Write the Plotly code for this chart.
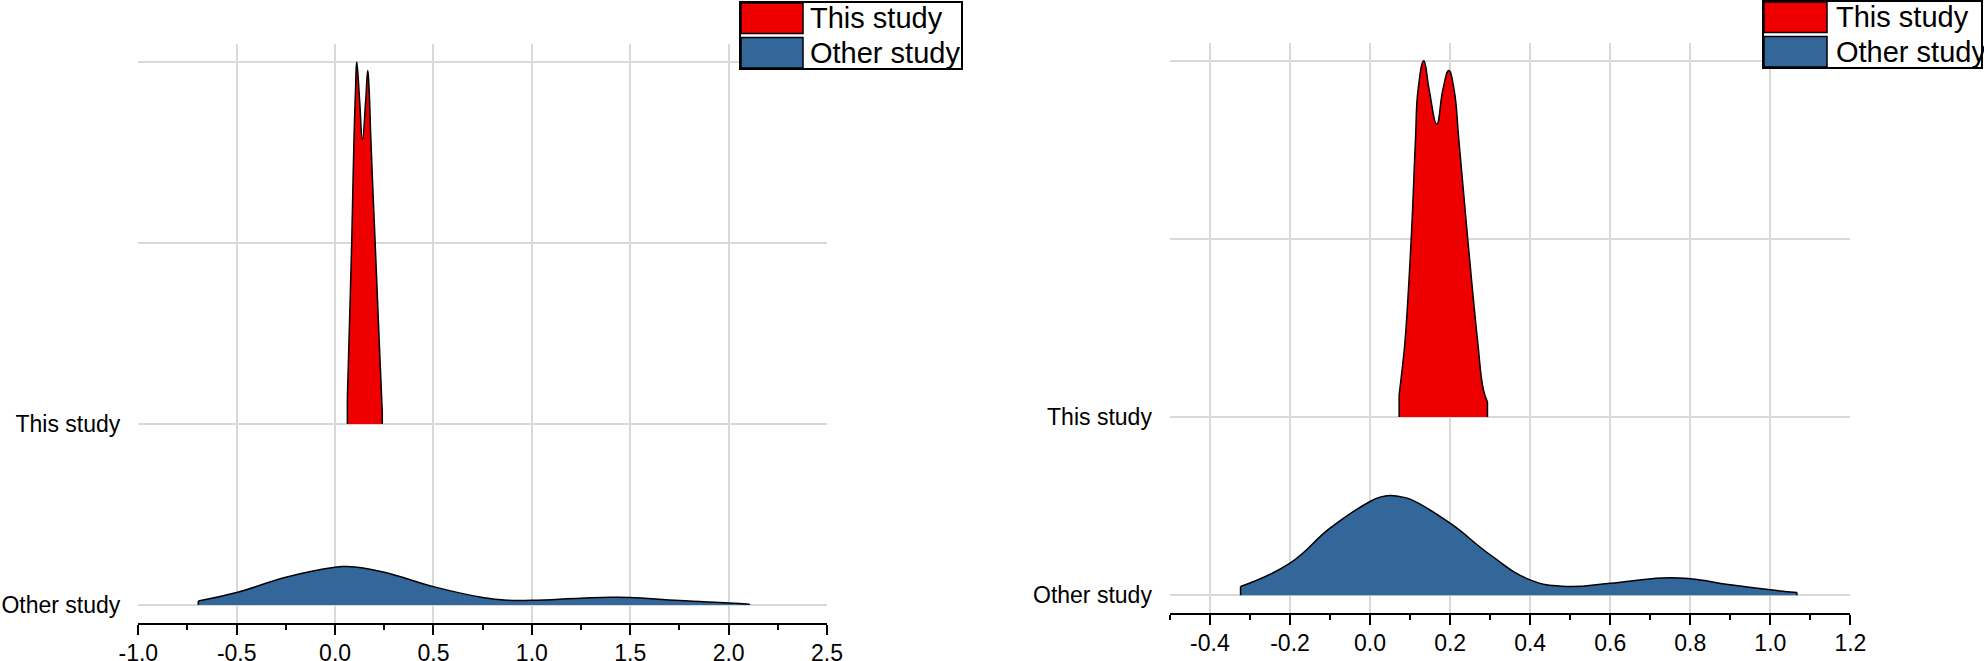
import plotly.graph_objects as go

# ---------------- data ----------------
categories = ["Other study", "This study"]
y_tick_vals = [0, 1, 2, 3]
y_tick_text = ["Other study", "This study", "", ""]

# Left panel
left_this_x = [0.0625, 0.071, 0.085, 0.096, 0.104, 0.110, 0.1245, 0.139, 0.156, 0.166, 0.173, 0.182, 0.203, 0.224, 0.240]
left_this_h = [0.14, 0.467, 1.02, 1.57, 1.85, 2.00, 1.794, 1.572, 1.794, 1.954, 1.85, 1.57, 1.02, 0.467, 0.06]
left_other_x = [-0.695, -0.50, -0.25, 0.0, 0.045, 0.10, 0.25, 0.50, 0.75, 0.88, 1.0, 1.25, 1.405, 1.50, 1.75, 2.0, 2.106]
left_other_h = [0.022, 0.068, 0.153, 0.208, 0.212, 0.210, 0.181, 0.101, 0.041, 0.026, 0.026, 0.037, 0.042, 0.041, 0.024, 0.011, 0.004]
left_x_ticks = [-1.0, -0.5, 0.0, 0.5, 1.0, 1.5, 2.0, 2.5]
left_x_labels = ["-1.0", "-0.5", "0.0", "0.5", "1.0", "1.5", "2.0", "2.5"]

# Right panel
right_this_x = [0.0727, 0.0818, 0.0877, 0.1027, 0.1135, 0.120, 0.1343, 0.1477, 0.1668, 0.1818, 0.1968, 0.210, 0.2218, 0.2443, 0.2684, 0.2833, 0.2933]
right_this_h = [0.124, 0.30, 0.433, 0.994, 1.556, 1.837, 2.00, 1.837, 1.644, 1.837, 1.946, 1.837, 1.556, 0.994, 0.433, 0.152, 0.086]
right_other_x = [-0.3235, -0.2, -0.1, 0.0, 0.027, 0.05, 0.075, 0.1, 0.2, 0.3, 0.4, 0.49, 0.6, 0.73, 0.8, 0.9, 1.0, 1.0665]
right_other_h = [0.049, 0.180, 0.376, 0.526, 0.552, 0.560, 0.553, 0.539, 0.404, 0.227, 0.086, 0.049, 0.067, 0.097, 0.092, 0.058, 0.030, 0.015]
right_x_ticks = [-0.4, -0.2, 0.0, 0.2, 0.4, 0.6, 0.8, 1.0, 1.2]
right_x_labels = ["-0.4", "-0.2", "0.0", "0.2", "0.4", "0.6", "0.8", "1.0", "1.2"]

colors = {"This study": "#ee0000", "Other study": "#336699"}

FONT = "Liberation Sans, Arial, sans-serif"
W, H = 1984, 661

fig = go.Figure()


def add_ridge(xs, hs, base, color, xa, ya):
    # invisible baseline
    fig.add_trace(go.Scatter(x=[xs[0], xs[-1]], y=[base, base], mode="lines",
                             line=dict(width=0, color=color), hoverinfo="skip",
                             showlegend=False, xaxis=xa, yaxis=ya))
    fig.add_trace(go.Scatter(x=xs, y=[base + h for h in hs], mode="lines",
                             line=dict(color="black", width=1.5, shape="spline", smoothing=1.3),
                             fill="tonexty", fillcolor=color, showlegend=False,
                             xaxis=xa, yaxis=ya))
    for xe, he in ((xs[0], hs[0]), (xs[-1], hs[-1])):
        fig.add_trace(go.Scatter(x=[xe, xe], y=[base, base + he], mode="lines",
                                 line=dict(color="black", width=1.5), hoverinfo="skip",
                                 showlegend=False, xaxis=xa, yaxis=ya))


base_other = categories.index("Other study")
base_this = categories.index("This study")

add_ridge(left_other_x, left_other_h, base_other, colors["Other study"], "x", "y")
add_ridge(left_this_x, left_this_h, base_this, colors["This study"], "x", "y")
add_ridge(right_other_x, right_other_h, base_other, colors["Other study"], "x2", "y2")
add_ridge(right_this_x, right_this_h, base_this, colors["This study"], "x2", "y2")


def px(x):
    return x / W


def py(y):
    return 1 - y / H


xcommon = dict(showline=True, linecolor="black", linewidth=2, ticks="outside", ticklen=10,
               tickwidth=2, tickcolor="black", showgrid=True, gridcolor="#d9d9d9", gridwidth=1.5,
               zeroline=False, tickfont=dict(family=FONT, size=23, color="black"),
               automargin=False, ticklabelstandoff=-2)
ycommon = dict(showline=False, ticks="", showgrid=True, gridcolor="#d9d9d9", gridwidth=1.5,
               zeroline=False, range=[-0.1, 3.1], tickvals=y_tick_vals, ticktext=y_tick_text,
               tickfont=dict(family=FONT, size=23, color="black"), automargin=False,
               ticklabelstandoff=17)

fig.update_layout(
    width=W, height=H, margin=dict(l=0, r=0, t=0, b=0),
    paper_bgcolor="white", plot_bgcolor="white", showlegend=False,
    xaxis=dict(**xcommon, domain=[px(138.3), px(827.0)], range=[-1.0, 2.5],
               tickvals=left_x_ticks, ticktext=left_x_labels,
               minor=dict(dtick=0.25, tick0=0, ticks="outside", ticklen=5, tickwidth=2,
                          tickcolor="black", showgrid=False),
               anchor="y"),
    yaxis=dict(**ycommon, domain=[py(623), py(44)], anchor="x"),
    xaxis2=dict(**xcommon, domain=[px(1169.9), px(1850.4)], range=[-0.5, 1.2],
                tickvals=right_x_ticks, ticktext=right_x_labels,
                minor=dict(dtick=0.1, tick0=0, ticks="outside", ticklen=5, tickwidth=2,
                           tickcolor="black", showgrid=False),
                anchor="y2"),
    yaxis2=dict(**ycommon, domain=[py(613), py(43)], anchor="x2"),
)

# ---------------- manual legends (page pixel coords) ----------------
def add_legend(x0, x1, y0, y1, sw_w, text_x):
    fig.add_shape(type="rect", xref="paper", yref="paper", x0=px(x0), x1=px(x1),
                  y0=py(y1), y1=py(y0), line=dict(color="black", width=2), fillcolor="white")
    mid = (y0 + y1) / 2
    rows = [("This study", y0 + 1, mid - 2), ("Other study", mid + 2, y1 - 1)]
    for name, a, b in rows:
        fig.add_shape(type="rect", xref="paper", yref="paper", x0=px(x0 + 1), x1=px(x0 + 1 + sw_w),
                      y0=py(b), y1=py(a), line=dict(color="black", width=1.5),
                      fillcolor=colors[name])
        fig.add_annotation(x=px(text_x), y=py((a + b) / 2), xref="paper", yref="paper",
                           text=name, showarrow=False, xanchor="left", yanchor="middle",
                           font=dict(family=FONT, size=29, color="black"))


add_legend(740, 962, 2, 69, 62, 808)
add_legend(1763, 1982, 1, 68, 63, 1834)

fig.write_html("out.html", config={"displayModeBar": False},
               post_script="document.body.style.margin='0';document.body.style.overflow='hidden';")
